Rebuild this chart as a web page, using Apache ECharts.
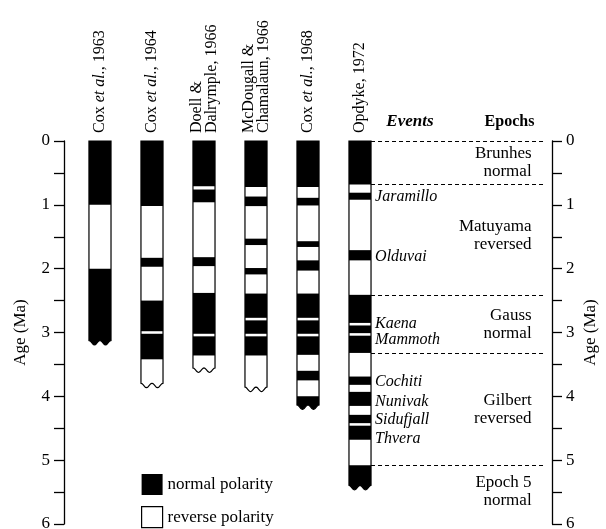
<!DOCTYPE html>
<html><head><meta charset="utf-8">
<script src="https://cdn.jsdelivr.net/npm/echarts@6/dist/echarts.min.js"></script>
<style>html,body{margin:0;padding:0;background:#fff}#c{width:606px;height:529px}</style>
</head><body><div id="c"></div>
<script>
// ---------- data ----------
const columnLabels = ['Cox {i|et al.}, 1963', 'Cox {i|et al.}, 1964', 'Doell &\nDalrymple, 1966',
  'McDougall &\nChamalaun, 1966', 'Cox {i|et al.}, 1968', 'Opdyke, 1972'];
const columnEnds = [3.16, 3.83, 3.59, 3.89, 4.17, 5.43];
const cox1963Normal = [[0, 1.0], [2.0, 3.16]];
const cox1964Normal = [[0, 1.02], [1.83, 1.97], [2.50, 2.98], [3.02, 3.42]];
const doell1966Normal = [[0, 0.71], [0.76, 0.96], [1.82, 1.96], [2.38, 3.02], [3.06, 3.36]];
const mcdougall1966Normal = [[0, 0.72], [0.87, 1.02], [1.53, 1.63], [1.99, 2.09], [2.39, 2.77], [2.81, 3.02], [3.06, 3.36]];
const cox1968Normal = [[0, 0.72], [0.89, 1.01], [1.57, 1.66], [1.87, 2.03], [2.39, 2.77], [2.81, 3.02], [3.06, 3.35], [3.60, 3.75], [4.00, 4.17]];
const opdyke1972Normal = [[0, 0.68], [0.81, 0.92], [1.71, 1.87], [2.41, 2.85], [2.89, 3.01], [3.05, 3.32], [3.69, 3.82], [3.93, 4.15], [4.29, 4.42], [4.46, 4.68], [5.08, 5.43]];
const eventNames = ['Jaramillo', 'Olduvai', 'Kaena', 'Mammoth', 'Cochiti', 'Nunivak', 'Sidufjall', 'Thvera'];
const eventLabelAges = [0.87, 1.81, 2.86, 3.11, 3.77, 4.08, 4.37, 4.66];
const epochNames = ['Brunhes\nnormal', 'Matuyama\nreversed', 'Gauss\nnormal', 'Gilbert\nreversed', 'Epoch 5\nnormal'];
const epochLabelAges = [0.34, 1.48, 2.87, 4.20, 5.49];
const epochBoundaries = [0, 0.68, 2.41, 3.32, 5.08];
const ageTickLabels = ['0', '1', '2', '3', '4', '5', '6'];
const headerNames = ['Events', 'Epochs'];

// ---------- layout constants ----------
const HW = 0.212;          // column half width (x units)
const EVENT_X = 5.29;
const EPOCH_X = 8.30;
const DASH_X0 = 5 + HW, DASH_X1 = 8.52;
const HEADER_X = [5.96, 7.875];
const FONT = '"Liberation Serif", "Times New Roman", serif';

const normalSets = [cox1963Normal, cox1964Normal, doell1966Normal, mcdougall1966Normal, cox1968Normal, opdyke1972Normal];

function wavePoly(api, i, top, end) {
  const tl = api.coord([i - HW, top]);
  const br = api.coord([i + HW, end]);
  const pts = [[tl[0], tl[1]], [br[0], tl[1]]];
  const N = 24, amp = 2.2;
  for (let k = N; k >= 0; k--) {
    const t = k / N;
    pts.push([tl[0] + t * (br[0] - tl[0]), br[1] - amp * Math.cos(4 * Math.PI * t)]);
  }
  return pts;
}

const chart = echarts.init(document.getElementById('c'), null, {renderer: 'canvas'});
const axisCommon = {
  type: 'value', min: 0, max: 6, interval: 0.5, inverse: true,
  name: 'Age (Ma)', nameLocation: 'middle', nameRotate: 90, nameMoveOverlap: false,
  nameTextStyle: {fontFamily: FONT, fontSize: 17, color: '#000'},
  axisLine: {show: true, onZero: false, lineStyle: {color: '#000', width: 1.3}},
  axisTick: {show: true, inside: false, length: 10, lineStyle: {color: '#000', width: 1.3}},
  axisLabel: {show: true, margin: 14, fontFamily: FONT, fontSize: 17, color: '#000',
    formatter: v => (Math.abs(v - Math.round(v)) < 1e-9 ? ageTickLabels[Math.round(v)] : '')},
  splitLine: {show: false}
};

chart.setOption({
  animation: false,
  backgroundColor: '#fff',
  grid: {left: 64, right: 54, top: 141, bottom: 5, containLabel: false, outerBoundsMode: 'none'},
  xAxis: {type: 'value', min: -0.692, max: 8.692, show: false},
  yAxis: [
    Object.assign({}, axisCommon, {position: 'left', nameGap: 35}),
    Object.assign({}, axisCommon, {position: 'right', nameGap: 30})
  ],
  legend: {
    orient: 'vertical', left: 141, top: 474, height: 56, padding: 0,
    itemWidth: 21, itemHeight: 21, itemGap: 11,
    selectedMode: false, icon: 'rect',
    textStyle: {fontFamily: FONT, fontSize: 17, color: '#000'},
    data: [
      {name: 'normal polarity', icon: 'rect', itemStyle: {color: '#000', borderWidth: 0}},
      {name: 'reverse polarity', icon: 'rect', itemStyle: {color: '#fff', borderColor: '#000', borderWidth: 1.2}}
    ]
  },
  series: [
    {
      name: 'reverse polarity', type: 'custom', z: 2,
      itemStyle: {color: '#fff', borderColor: '#000', borderWidth: 1.2},
      data: columnEnds.map((e, i) => [i, e]),
      renderItem: (params, api) => {
        const i = api.value(0), end = api.value(1);
        return {type: 'polygon', shape: {points: wavePoly(api, i, 0, end)},
          style: {fill: '#fff', stroke: '#000', lineWidth: 1.2}};
      },
      markLine: {
        silent: true, symbol: ['none', 'none'], label: {show: false},
        lineStyle: {color: '#000', type: [4, 3], width: 1},
        data: epochBoundaries.map(b => [{coord: [DASH_X0, b]}, {coord: [DASH_X1, b]}])
      }
    },
    {
      name: 'normal polarity', type: 'custom', z: 3,
      itemStyle: {color: '#000'},
      data: normalSets.flatMap((arr, i) => arr.map(([s, e]) => [i, s, e])),
      renderItem: (params, api) => {
        const i = api.value(0), s = api.value(1), e = api.value(2);
        if (Math.abs(e - columnEnds[i]) < 1e-6) {
          return {type: 'polygon', shape: {points: wavePoly(api, i, s, e)}, style: {fill: '#000'}};
        }
        const a = api.coord([i - HW, s]), b = api.coord([i + HW, e]);
        return {type: 'rect', shape: {x: a[0], y: a[1], width: b[0] - a[0], height: b[1] - a[1]}, style: {fill: '#000'}};
      }
    },
    {
      name: 'column headers', type: 'custom', z: 4,
      data: columnLabels.map((l, i) => [i, 0]),
      renderItem: (params, api) => {
        const p = api.coord([api.value(0), 0]);
        return {type: 'text', x: p[0], y: p[1] - 8, rotation: Math.PI / 2,
          style: {text: columnLabels[params.dataIndex], align: 'left', verticalAlign: 'middle',
            fontFamily: FONT, fontSize: 16, lineHeight: 15, fill: '#000',
            rich: {i: {fontFamily: FONT, fontSize: 16, fontStyle: 'italic', fill: '#000'}}}};
      }
    },
    {
      name: 'headers', type: 'custom', z: 4,
      data: HEADER_X.map(x => [x, 0]),
      renderItem: (params, api) => {
        const p = api.coord([api.value(0), 0]);
        const k = params.dataIndex;
        return {type: 'text', x: p[0], y: p[1] - 19,
          style: {text: headerNames[k], align: 'center', verticalAlign: 'middle',
            fontFamily: FONT, fontSize: k === 0 ? 17 : 16, fontWeight: 'bold',
            fontStyle: k === 0 ? 'italic' : 'normal', fill: '#000'}};
      }
    },
    {
      name: 'events', type: 'custom', z: 4,
      data: eventLabelAges.map(a => [EVENT_X, a]),
      renderItem: (params, api) => {
        const p = api.coord([api.value(0), api.value(1)]);
        return {type: 'text', x: p[0], y: p[1],
          style: {text: eventNames[params.dataIndex], align: 'left', verticalAlign: 'middle',
            fontFamily: FONT, fontSize: 16, fontStyle: 'italic', fill: '#000'}};
      }
    },
    {
      name: 'epochs', type: 'custom', z: 4,
      data: epochLabelAges.map(a => [EPOCH_X, a]),
      renderItem: (params, api) => {
        const p = api.coord([api.value(0), api.value(1)]);
        return {type: 'text', x: p[0], y: p[1],
          style: {text: epochNames[params.dataIndex], align: 'right', verticalAlign: 'middle',
            fontFamily: FONT, fontSize: 17, lineHeight: 18, fill: '#000'}};
      }
    }
  ]
});
</script></body></html>
